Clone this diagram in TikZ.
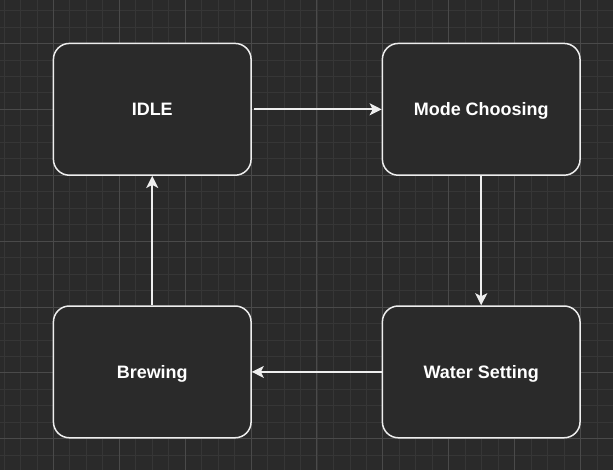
\documentclass[tikz,border=0pt]{standalone}
\usepackage{fontspec}
\setmainfont{Liberation Sans}
\usepackage{tikz}
\usetikzlibrary{arrows.meta}
\definecolor{bgdark}{HTML}{2A2A2A}
\definecolor{boxfill}{HTML}{2A2A2A}
\definecolor{boxline}{HTML}{EEEEEE}
\definecolor{minorline}{HTML}{363636}
\definecolor{majorline}{HTML}{4A4A4A}

\begin{document}
\begin{tikzpicture}[x=1pt,y=-1pt,
  state/.style={draw=boxline,fill=boxfill,line width=1.5pt,rounded corners=16pt,
    minimum width=198pt,minimum height=132pt,text=white,
    text height=13pt,text depth=0pt,
    font=\fontsize{18}{22}\selectfont\bfseries},
  flow/.style={draw=boxline,line width=1.8pt,
    -{Stealth[length=12pt,width=12pt,inset=3pt]}},
  minorgrid/.style={minorline,line width=0.8pt},
  majorgrid/.style={majorline,line width=1pt}]
\fill[bgdark] (0,0) rectangle (613,470);
\foreach \k in {0,...,36}
  \draw[minorgrid] ({3.5+16.5*\k},0) -- ({3.5+16.5*\k},470);
\foreach \k in {0,...,27}
  \draw[minorgrid] (0,{10+16.5*\k}) -- (613,{10+16.5*\k});
\foreach \k in {0,...,8}
  \draw[majorgrid] ({53+66*\k},0) -- ({53+66*\k},470);
\foreach \k in {0,...,6}
  \draw[majorgrid] (0,{43+66*\k}) -- (613,{43+66*\k});

\node[state] (idle) at (152,109) {IDLE};
\node[state] (mode) at (481.5,109) {Mode Choosing};
\node[state] (water) at (481.5,372) {Water Setting};
\node[state] (brew) at (152,372) {Brewing};

\draw[flow,shorten <=2pt] (idle) -- (mode);
\draw[flow] (mode) -- (water);
\draw[flow] (water) -- (brew);
\draw[flow] (brew) -- (idle);
\end{tikzpicture}
\end{document}
